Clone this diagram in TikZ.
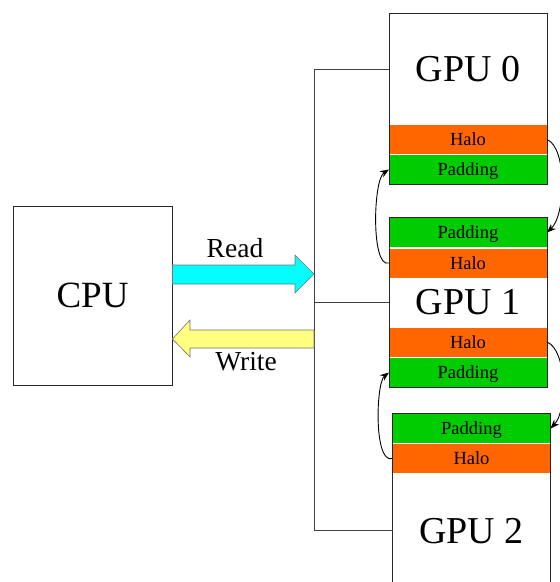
\documentclass[tikz,border=0pt]{standalone}
\usepackage{fontspec}
\setmainfont{Liberation Serif}
\usetikzlibrary{arrows.meta,calc}

\definecolor{haloc}{RGB}{255,102,0}
\definecolor{padc}{RGB}{0,204,0}
\definecolor{readc}{RGB}{0,255,255}
\definecolor{writec}{RGB}{255,255,128}

\tikzset{
  band/.style={minimum width=158pt, inner sep=0pt, outer sep=0pt,
               draw=white, line width=0.6pt, font=\fontsize{18.5}{20}\selectfont,
               text height=12.2pt, text depth=0pt},
  core/.style={band, fill=white, font=\fontsize{38}{40}\selectfont,
               text height=25pt, text depth=0pt},
  halo/.style={band, fill=haloc, minimum height=30pt},
  pad/.style={band, fill=padc, minimum height=30pt},
  frame/.style={draw=black!85, line width=0.9pt},
  bus/.style={draw=black!75, line width=1pt},
  xfer/.style={draw=black, line width=0.9pt, -{Stealth[length=9pt,width=7pt]}},
  blockarrow/.style={draw=black!55, line width=0.6pt},
  lbl/.style={font=\fontsize{27.5}{30}\selectfont, inner sep=0pt}
}

\begin{document}
\begin{tikzpicture}[x=1pt, y=-1pt]
  \clip (0,0) rectangle (560,582);
  \fill[white] (0,0) rectangle (560,582);

  % CPU
  \node[draw=black!85, line width=0.9pt, minimum width=159pt, minimum height=179pt,
        inner sep=0pt, font=\fontsize{37}{40}\selectfont] (cpu) at (92.5,295.5) {CPU};

  % GPU 0
  \node[core, minimum height=112pt] (g0) at (468,69) {GPU 0};
  \node[halo] (g0h) at (468,139.5) {Halo};
  \node[pad]  (g0p) at (468,169.5) {Padding};
  \draw[frame] (g0.north west) rectangle (g0p.south east);

  % GPU 1
  \node[pad]  (g1pa) at (468,232.5) {Padding};
  \node[halo] (g1ha) at (468,263) {Halo};
  \node[core, minimum height=48pt] (g1) at (468,302) {GPU 1};
  \node[halo] (g1hb) at (468,342) {Halo};
  \node[pad]  (g1pb) at (468,372.5) {Padding};
  \draw[frame] (g1pa.north west) rectangle (g1pb.south east);

  % GPU 2
  \node[pad]  (g2p) at (471.5,428.5) {Padding};
  \node[halo] (g2h) at (471.5,458.5) {Halo};
  \node[core, minimum height=114pt] (g2) at (471.5,530.5) {GPU 2};
  \draw[frame] (g2p.north west) rectangle (g2.south east);

  % bus from the host side to every GPU
  \coordinate (bus) at (314,0);
  \draw[bus] (g0.west) -| (bus |- g2.west) -- (g2.west);
  \draw[bus] (bus |- g1.west) -- (g1.west);

  % Read / Write block arrows
  \filldraw[blockarrow, fill=readc]
    (cpu.east |- 0,265) -- (295,265) -- (295,255) -- (bus |- 0,274)
    -- (295,293) -- (295,284) -- (cpu.east |- 0,284) -- cycle;
  \filldraw[blockarrow, fill=writec]
    (bus |- 0,330) -- (190,330) -- (190,320) -- (cpu.east |- 0,339)
    -- (190,357) -- (190,348) -- (bus |- 0,348) -- cycle;
  \node[lbl] (rd) at (235,248) {Read};
  \node[lbl] (wr) at (246,362) {Write};

  % halo exchanges between neighbouring GPUs
  \draw[xfer] (g0h.east) .. controls +(20,8) and +(19,-18) .. (g1pa.east);
  \draw[xfer] (g1ha.west) .. controls +(-18,6) and +(-16,10) .. (g0p.west);
  \draw[xfer] (g1hb.east) .. controls +(20,8) and +(17,-18) .. (g2p.east);
  \draw[xfer] (g2h.west) .. controls +(-19,6) and +(-13,10) .. (g1pb.west);
\end{tikzpicture}
\end{document}
